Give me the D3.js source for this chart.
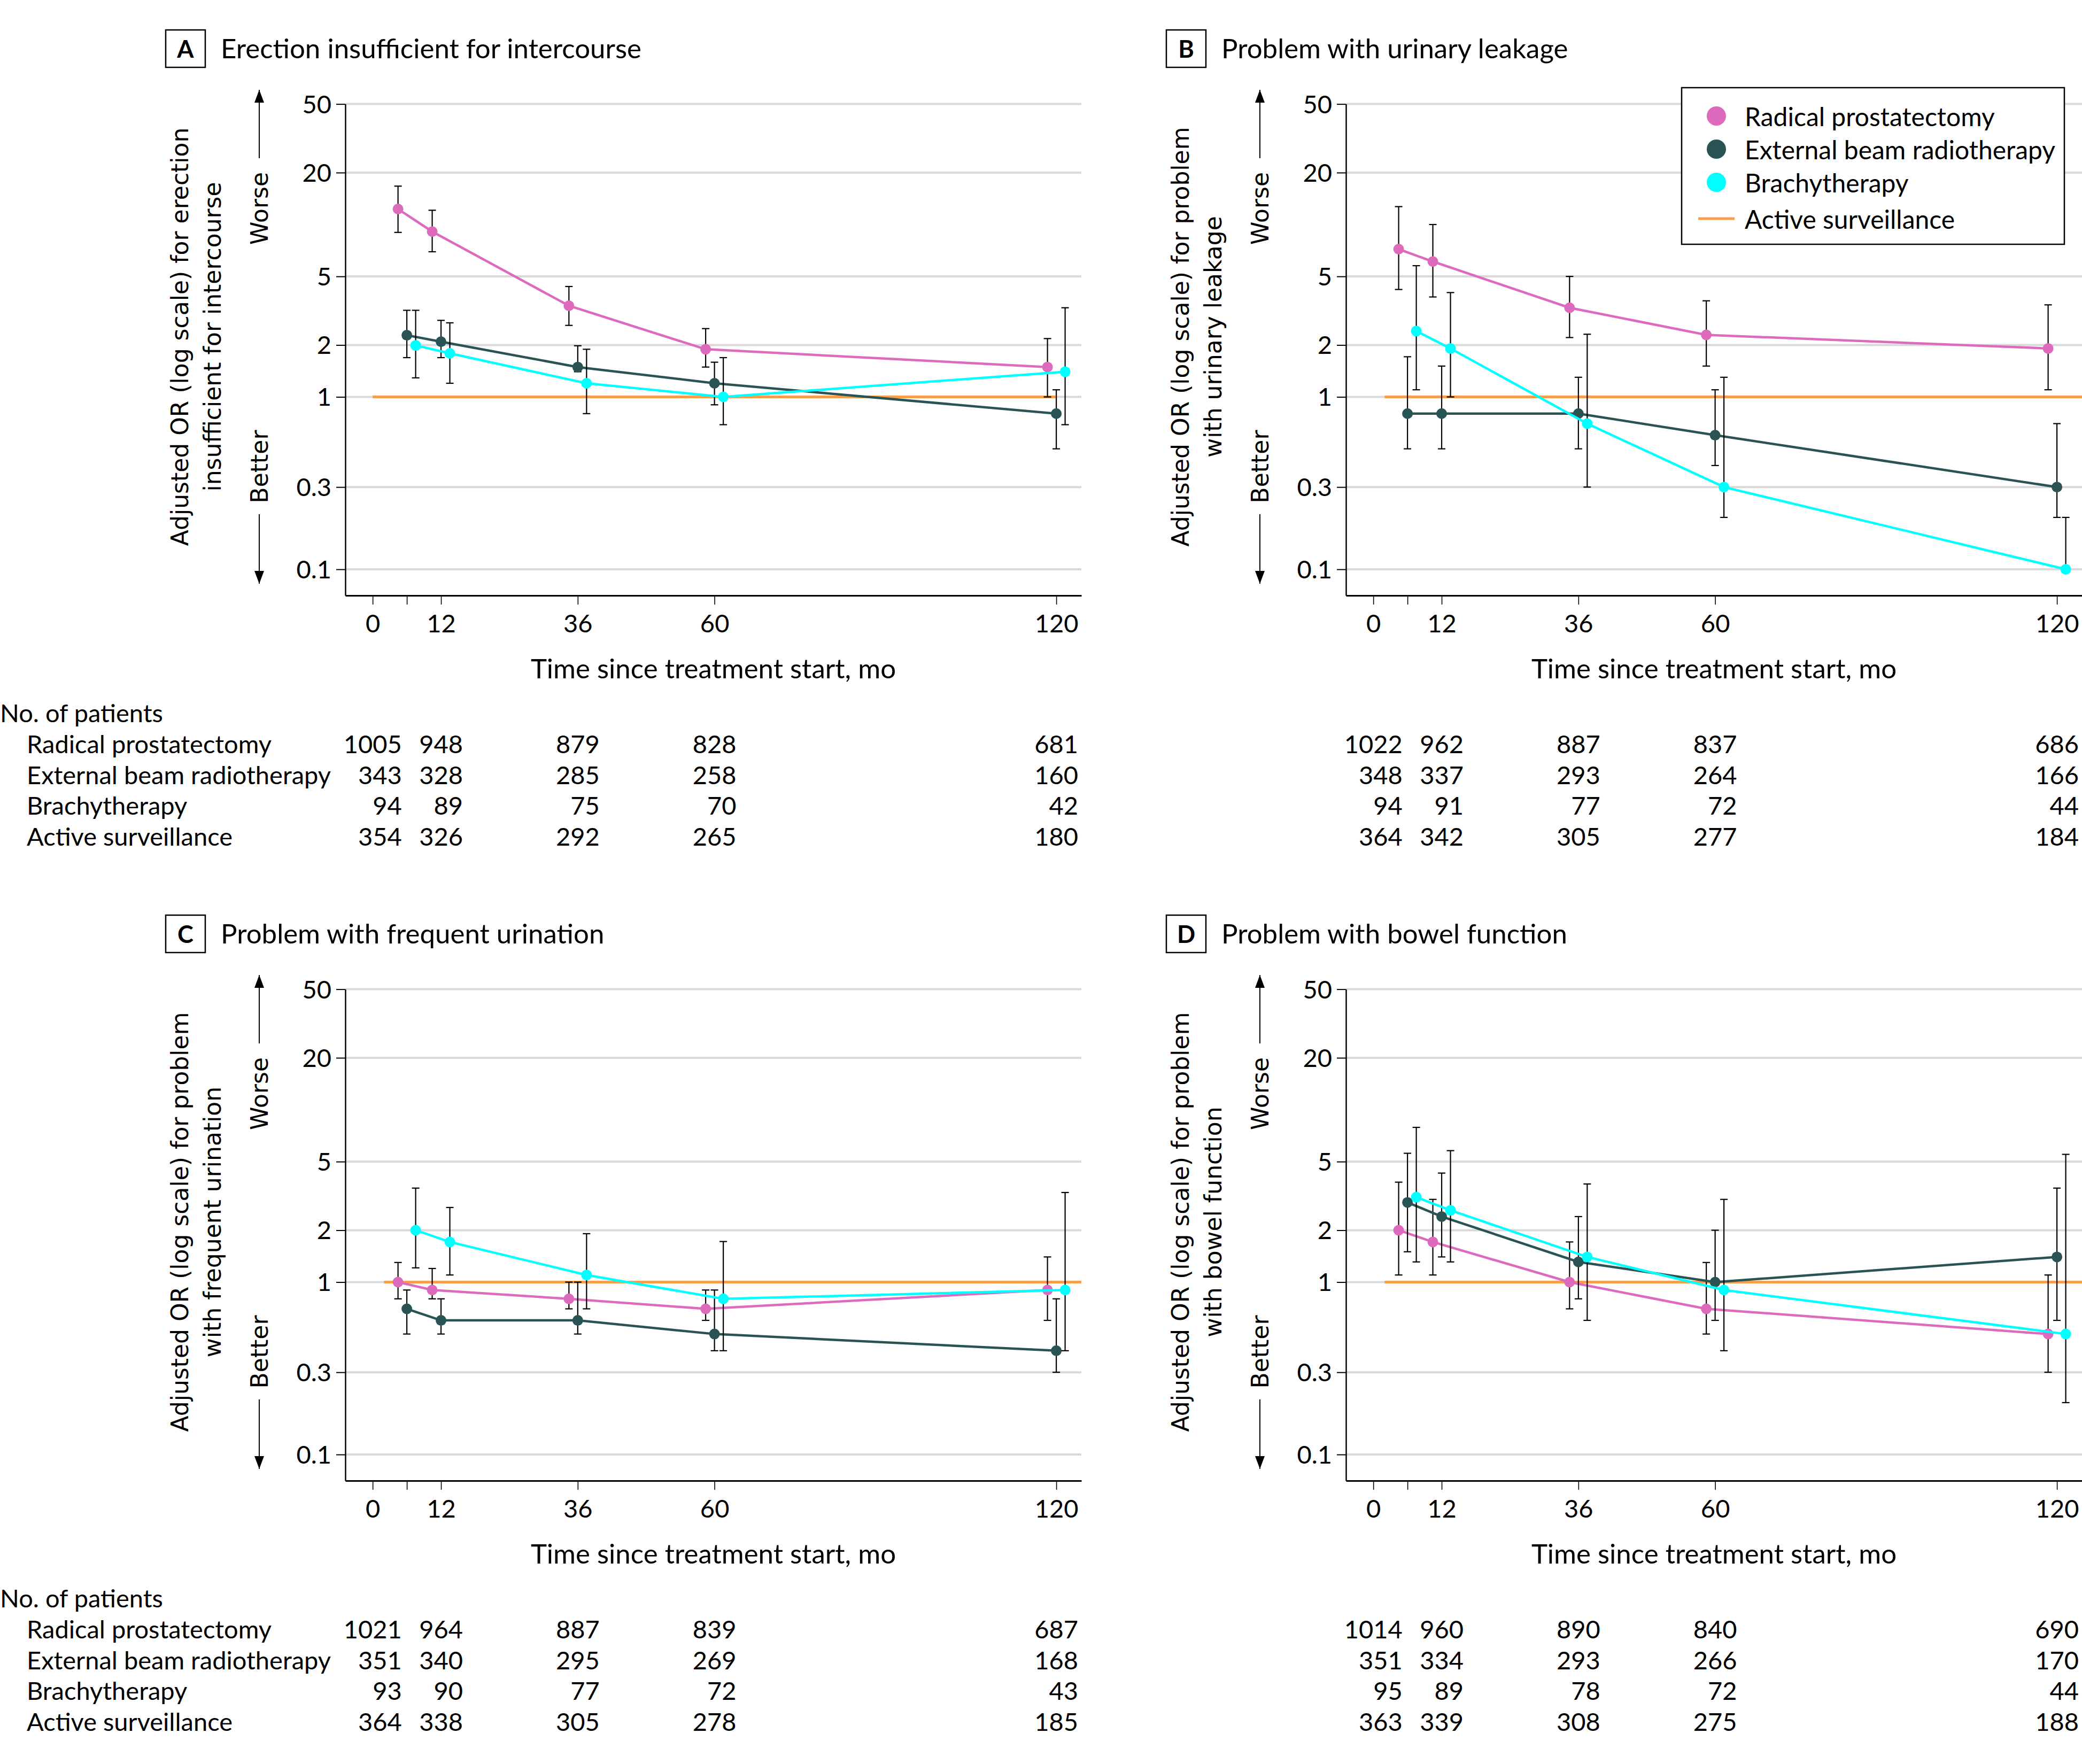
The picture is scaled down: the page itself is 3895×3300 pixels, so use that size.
<!DOCTYPE html>
<html><head><meta charset="utf-8">
<script src="https://cdn.jsdelivr.net/npm/d3@7"></script>
<style>body{margin:0;background:#fff} svg{display:block}</style>
</head><body>
<svg id="chart" width="3895" height="3300"></svg>
<script>
// ---------- data ----------
const months = [6, 12, 36, 60, 120];
const xTickValues = [0, 6, 12, 36, 60, 120];
const xTickLabels = [0, 12, 36, 60, 120];
const yTickValues = [0.1, 0.3, 1, 2, 5, 20, 50];
const seriesNames = ["Radical prostatectomy", "External beam radiotherapy", "Brachytherapy", "Active surveillance"];
const seriesColors = ["#de6abe", "#2a5453", "#00ffff", "#f99d4b"];
const panelLetters = ["A", "B", "C", "D"];
const panelTitles = ["Erection insufficient for intercourse", "Problem with urinary leakage",
                     "Problem with frequent urination", "Problem with bowel function"];
const yTitleLines = [
  ["Adjusted OR (log scale) for erection", "insufficient for intercourse"],
  ["Adjusted OR (log scale) for problem", "with urinary leakage"],
  ["Adjusted OR (log scale) for problem", "with frequent urination"],
  ["Adjusted OR (log scale) for problem", "with bowel function"]
];
const xTitle = "Time since treatment start, mo";
const tableHeader = "No. of patients";

// adjusted OR: [estimate, lower CI, upper CI] at each of `months`
const erectionRP   = [[12.3, 9.0, 16.7], [9.1, 6.95, 12.1], [3.38, 2.6, 4.37], [1.89, 1.49, 2.49], [1.49, 1.0, 2.18]];
const erectionEBRT = [[2.28, 1.69, 3.18], [2.09, 1.69, 2.78], [1.49, 1.40, 1.98], [1.20, 0.90, 1.59], [0.80, 0.50, 1.10]];
const erectionBT   = [[1.99, 1.29, 3.18], [1.79, 1.20, 2.69], [1.20, 0.80, 1.89], [1.0, 0.69, 1.69], [1.40, 0.69, 3.29]];

const leakageRP    = [[7.2, 4.2, 12.7], [6.1, 3.8, 10.0], [3.29, 2.21, 5.0], [2.29, 1.51, 3.61], [1.91, 1.10, 3.42]];
const leakageEBRT  = [[0.80, 0.50, 1.71], [0.80, 0.50, 1.51], [0.80, 0.50, 1.30], [0.60, 0.40, 1.10], [0.30, 0.20, 0.70]];
const leakageBT    = [[2.41, 1.10, 5.77], [1.91, 1.0, 4.03], [0.70, 0.30, 2.31], [0.30, 0.20, 1.30], [0.10, 0.10, 0.20]];

const frequencyRP   = [[1.0, 0.80, 1.30], [0.90, 0.80, 1.20], [0.80, 0.70, 1.0], [0.70, 0.60, 0.90], [0.90, 0.60, 1.40]];
const frequencyEBRT = [[0.70, 0.50, 0.90], [0.60, 0.50, 0.80], [0.60, 0.50, 1.0], [0.50, 0.40, 0.90], [0.40, 0.30, 0.80]];
const frequencyBT   = [[2.0, 1.21, 3.51], [1.71, 1.10, 2.71], [1.10, 0.70, 1.91], [0.80, 0.40, 1.72], [0.90, 0.40, 3.31]];

const bowelRP   = [[2.0, 1.10, 3.80], [1.71, 1.10, 3.02], [1.0, 0.70, 1.71], [0.70, 0.50, 1.30], [0.50, 0.30, 1.10]];
const bowelEBRT = [[2.90, 1.50, 5.59], [2.40, 1.40, 4.29], [1.31, 0.80, 2.40], [1.0, 0.60, 2.0], [1.40, 0.60, 3.51]];
const bowelBT   = [[3.11, 1.31, 7.90], [2.61, 1.31, 5.79], [1.40, 0.60, 3.71], [0.90, 0.40, 3.02], [0.50, 0.20, 5.51]];

// active surveillance reference line (OR = 1) span in months, per panel
const activeSurveillanceSpan = [[0, 120], [2, 124.4], [2, 124.4], [2, 124.4]];

// number of patients: rows = RP, EBRT, BT, AS ; columns = 0, 12, 36, 60, 120 months
const tableMonths = [0, 12, 36, 60, 120];
const patientsErection  = [[1005, 948, 879, 828, 681], [343, 328, 285, 258, 160], [94, 89, 75, 70, 42], [354, 326, 292, 265, 180]];
const patientsLeakage   = [[1022, 962, 887, 837, 686], [348, 337, 293, 264, 166], [94, 91, 77, 72, 44], [364, 342, 305, 277, 184]];
const patientsFrequency = [[1021, 964, 887, 839, 687], [351, 340, 295, 269, 168], [93, 90, 77, 72, 43], [364, 338, 305, 278, 185]];
const patientsBowel     = [[1014, 960, 890, 840, 690], [351, 334, 293, 266, 170], [95, 89, 78, 72, 44], [363, 339, 308, 275, 188]];

// ---------- drawing ----------
const SANS = "Lato, 'Open Sans', sans-serif";
const WIDE = "'DejaVu Sans', Verdana, sans-serif";
const svg = d3.select("#chart");

svg.append("defs").append("marker")
  .attr("id", "arrow").attr("viewBox", "0 0 24 20").attr("refX", 24).attr("refY", 10)
  .attr("markerWidth", 24).attr("markerHeight", 20).attr("markerUnits", "userSpaceOnUse")
  .attr("orient", "auto")
  .append("path").attr("d", "M0,1 L24,10 L0,19 Z").attr("fill", "#000");

const panels = [
  { series: [erectionRP, erectionEBRT, erectionBT], patients: patientsErection, col: 0, row: 0 },
  { series: [leakageRP, leakageEBRT, leakageBT], patients: patientsLeakage, col: 1, row: 0 },
  { series: [frequencyRP, frequencyEBRT, frequencyBT], patients: patientsFrequency, col: 0, row: 1 },
  { series: [bowelRP, bowelEBRT, bowelBT], patients: patientsBowel, col: 1, row: 1 }
];
const colDx = 1872, rowDy = 1656;
const dodge = [-16.5, 0, 16.5];

panels.forEach((p, i) => {
  const g = svg.append("g").attr("transform", `translate(${p.col * colDx},${p.row * rowDy})`);
  const x = d3.scaleLinear().domain([-4.8, 124.4]).range([646, 2023]);
  const y = d3.scaleLog().domain([0.0705, 50]).range([1114, 194.6]);

  // title
  g.append("rect").attr("x", 310).attr("y", 56).attr("width", 74).attr("height", 70)
    .attr("fill", "none").attr("stroke", "#000").attr("stroke-width", 2.5);
  g.append("text").attr("x", 347).attr("y", 91).attr("text-anchor", "middle").attr("dominant-baseline", "central")
    .attr("font-family", SANS).attr("font-weight", 700).attr("font-size", 45).text(panelLetters[i]);
  g.append("text").attr("x", 413).attr("y", 109).attr("font-family", SANS).attr("font-size", 51).text(panelTitles[i]);

  // gridlines
  g.append("g").selectAll("line").data(yTickValues).join("line")
    .attr("x1", x.range()[0]).attr("x2", x.range()[1])
    .attr("y1", d => y(d)).attr("y2", d => y(d))
    .attr("stroke", "#d9d9d9").attr("stroke-width", 4);

  // axes
  const ya = g.append("g").attr("transform", `translate(${x.range()[0]},0)`)
    .call(d3.axisLeft(y).tickValues(yTickValues).tickSize(17).tickSizeOuter(0).tickPadding(9).tickFormat(d => String(d)));
  ya.select(".domain").attr("stroke-width", 2.5);
  ya.selectAll(".tick line").attr("stroke-width", 2);
  ya.selectAll("text").attr("font-family", SANS).attr("font-size", 47).attr("dy", "0.35em");

  const xa = g.append("g").attr("transform", `translate(0,${y.range()[0]})`)
    .call(d3.axisBottom(x).tickValues(xTickValues).tickSize(17).tickSizeOuter(0)
      .tickFormat(d => xTickLabels.includes(d) ? String(d) : ""));
  xa.select(".domain").attr("stroke-width", 3);
  xa.selectAll(".tick line").attr("stroke-width", 1.6);
  xa.selectAll("text").attr("font-family", SANS).attr("font-size", 47).attr("y", 53).attr("dy", "0.35em");

  g.append("text").attr("x", (x.range()[0] + x.range()[1]) / 2).attr("y", 1249)
    .attr("text-anchor", "middle").attr("dominant-baseline", "central")
    .attr("font-family", SANS).attr("font-size", 51).text(xTitle);

  // y title
  [336, 397].forEach((cx, k) => {
    g.append("text").attr("transform", `translate(${cx},630) rotate(-90)`)
      .attr("text-anchor", "middle").attr("dominant-baseline", "central")
      .attr("font-family", WIDE).attr("font-size", 44).text(yTitleLines[i][k]);
  });
  // worse / better
  g.append("text").attr("transform", `translate(485,390) rotate(-90)`).attr("text-anchor", "middle")
    .attr("dominant-baseline", "central").attr("font-family", WIDE).attr("font-size", 44).text("Worse");
  g.append("text").attr("transform", `translate(485,873) rotate(-90)`).attr("text-anchor", "middle")
    .attr("dominant-baseline", "central").attr("font-family", WIDE).attr("font-size", 44).text("Better");
  g.append("line").attr("x1", 485).attr("x2", 485).attr("y1", 296).attr("y2", 168)
    .attr("stroke", "#000").attr("stroke-width", 2).attr("marker-end", "url(#arrow)");
  g.append("line").attr("x1", 485).attr("x2", 485).attr("y1", 962).attr("y2", 1092)
    .attr("stroke", "#000").attr("stroke-width", 2).attr("marker-end", "url(#arrow)");

  // active surveillance reference
  const sp = activeSurveillanceSpan[i];
  g.append("line").attr("x1", x(sp[0])).attr("x2", x(sp[1])).attr("y1", y(1)).attr("y2", y(1))
    .attr("stroke", seriesColors[3]).attr("stroke-width", 5);

  // series
  p.series.forEach((s, k) => {
    const pts = s.map((d, j) => ({ px: x(months[j]) + dodge[k], est: d[0], lo: d[1], hi: d[2] }));
    const sg = g.append("g");
    sg.append("path").datum(pts)
      .attr("d", d3.line().x(d => d.px).y(d => y(d.est)))
      .attr("fill", "none").attr("stroke", seriesColors[k]).attr("stroke-width", 4.5);
    const eb = sg.append("g").attr("stroke", "#000").attr("stroke-width", 2.2);
    eb.selectAll("line.v").data(pts).join("line").attr("class", "v")
      .attr("x1", d => d.px).attr("x2", d => d.px).attr("y1", d => y(d.lo)).attr("y2", d => y(d.hi));
    eb.selectAll("line.lo").data(pts).join("line").attr("class", "lo")
      .attr("x1", d => d.px - 7).attr("x2", d => d.px + 7).attr("y1", d => y(d.lo)).attr("y2", d => y(d.lo));
    eb.selectAll("line.hi").data(pts).join("line").attr("class", "hi")
      .attr("x1", d => d.px - 7).attr("x2", d => d.px + 7).attr("y1", d => y(d.hi)).attr("y2", d => y(d.hi));
    sg.selectAll("circle").data(pts).join("circle")
      .attr("cx", d => d.px).attr("cy", d => y(d.est)).attr("r", 10).attr("fill", seriesColors[k]);
  });

  // patients table
  const tg = g.append("g").attr("font-family", SANS).attr("font-size", 47);
  const rowY = [1391, 1449, 1506, 1564];
  if (p.col === 0) {
    tg.append("text").attr("x", 0).attr("y", 1333).attr("dominant-baseline", "central").text(tableHeader);
    seriesNames.forEach((n, r) => {
      tg.append("text").attr("x", 50).attr("y", rowY[r]).attr("dominant-baseline", "central").text(n);
    });
  }
  tableMonths.forEach((m, c) => {
    const col = tg.append("g");
    const texts = col.selectAll("text").data(p.patients.map(row => row[c])).join("text")
      .attr("y", (d, r) => rowY[r]).attr("dominant-baseline", "central").attr("text-anchor", "end")
      .text(d => d);
    let w = 0;
    texts.each(function () { w = Math.max(w, this.getComputedTextLength()); });
    texts.attr("x", x(m) + w / 2);
  });
});

// legend (panel B)
const lg = svg.append("g");
lg.append("rect").attr("x", 3146).attr("y", 164).attr("width", 716).attr("height", 293)
  .attr("fill", "#fff").attr("stroke", "#000").attr("stroke-width", 2.5);
const legendY = [217, 279, 341, 409];
seriesNames.forEach((n, k) => {
  if (k < 3) {
    lg.append("circle").attr("cx", 3211).attr("cy", legendY[k]).attr("r", 18).attr("fill", seriesColors[k]);
  } else {
    lg.append("line").attr("x1", 3177).attr("x2", 3245).attr("y1", legendY[k]).attr("y2", legendY[k])
      .attr("stroke", seriesColors[k]).attr("stroke-width", 5);
  }
  lg.append("text").attr("x", 3264).attr("y", legendY[k]).attr("dominant-baseline", "central")
    .attr("font-family", SANS).attr("font-size", 48).text(n);
});
</script>
</body></html>
